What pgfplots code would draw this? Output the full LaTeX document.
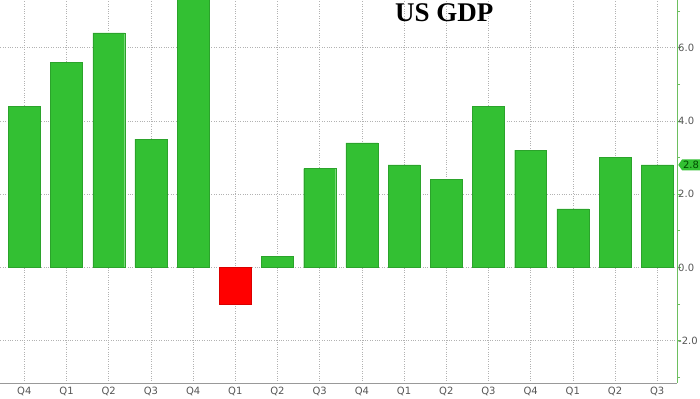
\documentclass[border=0pt]{standalone}
\usepackage{pgfplots}
\pgfplotsset{compat=1.18}
\usepackage{fontspec}
\setmainfont{DejaVu Sans}
\newfontfamily\titlefont{Liberation Serif}
\usetikzlibrary{shapes.symbols}
\definecolor{bargreen}{HTML}{33C033}
\definecolor{axgreen}{HTML}{6DBF5F}
\definecolor{tickgray}{HTML}{555555}
\begin{document}
\begin{tikzpicture}
\begin{axis}[
  scale only axis,
  width=677pt, height=383pt,
  xmin=-0.568, xmax=15.47,
  ymin=-3.16, ymax=7.29,
  axis y line*=right,
  axis x line*=bottom,
  y axis line style={axgreen, line width=0.8pt},
  x axis line style={gray!80, line width=0.8pt},
  ytick={-2,0,2,4,6},
  minor ytick={-3,-1,1,3,5,7},
  yticklabels={-2.0,0.0,2.0,4.0,6.0},
  xtick={0,...,15},
  xticklabels={Q4,Q1,Q2,Q3,Q4,Q1,Q2,Q3,Q4,Q1,Q2,Q3,Q4,Q1,Q2,Q3},
  tick label style={font=\fontsize{10}{11}\selectfont, text=tickgray},
  /pgf/number format/assume math mode=true,
  ytick style={axgreen, line width=0.6pt},
  minor tick style={axgreen, line width=0.6pt},
  xtick style={draw=none},
  major tick length=4pt, minor tick length=3pt,
  tick align=outside,
  yticklabel style={xshift=-4pt, inner sep=1pt},
  xticklabel style={yshift=4pt},
  grid=major,
  major grid style={gray!60, dotted, line width=0.6pt},
  clip=true,
]
\addplot[ybar, bar width=0.757, fill=bargreen, draw=bargreen!85!black, line width=0.3pt, bar shift=0pt]
coordinates {(0,4.4) (1,5.6) (2,6.4) (3,3.5) (4,7.4) (6,0.3) (7,2.7) (8,3.4) (9,2.8) (10,2.4) (11,4.4) (12,3.2) (13,1.6) (14,3.0) (15,2.8)};
\addplot[ybar, bar width=0.757, fill=red, draw=red!85!black, line width=0.3pt, bar shift=0pt]
coordinates {(5,-1.0)};
\node[font=\titlefont\bfseries\fontsize{27}{27}\selectfont, anchor=base] at (rel axis cs:0.656,0.945) {US GDP};
\end{axis}
\node[signal, signal to=west, signal pointer angle=110, fill=bargreen, inner sep=1pt, anchor=west, font=\fontsize{10}{11}\selectfont, text=green!30!black, minimum height=11pt] at (678pt,{(2.8+3.16)/(7.29+3.16)*383pt}) {2.8};
\end{tikzpicture}
\end{document}
